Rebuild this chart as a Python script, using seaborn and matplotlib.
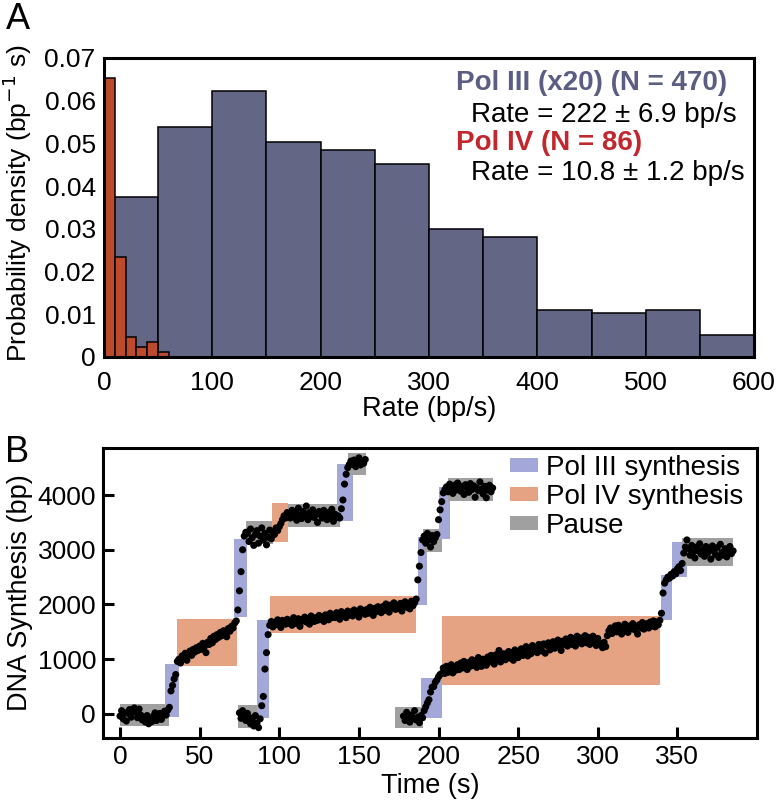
import numpy as np
import pandas as pd
import matplotlib
matplotlib.use("Agg")
import matplotlib.pyplot as plt
from matplotlib.patches import Rectangle, Patch
import seaborn as sns

# ---- panel A: rate histograms (probability density) ----
pol3_edges = [0, 50, 100, 150, 200, 250, 300, 350, 400, 450, 500, 550, 600]
pol3_density = [0.0375, 0.0539, 0.0623, 0.0503, 0.0485, 0.0452,
                0.0300, 0.0281, 0.0110, 0.0103, 0.0110, 0.0052]
pol4_edges = [0, 10, 20, 30, 40, 50, 60]
pol4_density = [0.0653, 0.0234, 0.0047, 0.0023, 0.0035, 0.0012]

pol3_title = "Pol III (x20) (N = 470)"
pol3_rate = "Rate = 222 ± 6.9 bp/s"
pol4_title = "Pol IV (N = 86)"
pol4_rate = "Rate = 10.8 ± 1.2 bp/s"

# ---- panel B: DNA synthesis traces, one point per second ----
trace1_start = 0
trace1_bp = [
    -40, 60, -90, 20, -130, 10, 80, -60, 40, 110,
    30, -70, 90, -20, -110, -60, -150, -30, -180, -90,
    -140, -40, 20, -120, -60, 10, -100, -30, 50, -20,
    70,
    120, 420, 520, 640, 720, 960,
    1000, 930, 1060, 1020, 1110, 980, 1090, 1150, 1070, 1180,
    1130, 1210, 1160, 1240, 1180, 1290, 1230, 1120, 1310, 1270,
    1380, 1300, 1420, 1360, 1450, 1400, 1490, 1430, 1520, 1470,
    1410, 1560, 1510, 1600, 1570, 1660, 1700,
    1900, 2250, 2600, 3000, 3250, 3320,
    3300, 3150, 3380, 3220, 3080, 3280, 3350, 3120, 3250, 3400,
    3180, 3300, 3090, 3230, 3360, 3200, 3320, 3280, 3400, 3350,
    3420, 3480, 3550, 3620, 3580, 3680,
    3650, 3580, 3720, 3600, 3690, 3540, 3760, 3630, 3570, 3700,
    3620, 3800, 3550, 3680, 3610, 3730, 3590, 3660, 3500, 3700,
    3640, 3580, 3720, 3610, 3550, 3680, 3600, 3740, 3520, 3650,
    3590, 3620,
    3580, 3750, 3910, 4200, 4380, 4500, 4560, 4620,
    4560, 4640, 4520, 4600, 4680, 4550, 4620, 4580, 4650,
]

trace2_start = 75
trace2_bp = [
    20, -80, 60, -40, -120, 10, -60, -180, -100, -220,
    -30, -170, -250, -90,
    150, 320, 820, 1120, 1450, 1620,
    1690, 1590, 1670, 1630, 1720, 1650, 1580, 1710, 1680, 1640,
    1730, 1660, 1700, 1620, 1760, 1690, 1650, 1740, 1600, 1720,
    1700, 1770, 1680, 1740, 1640, 1790, 1720, 1690, 1760, 1710,
    1800, 1730, 1770, 1690, 1810, 1750, 1720, 1840, 1760, 1790,
    1760, 1850, 1800, 1730, 1870, 1790, 1830, 1760, 1880, 1810,
    1860, 1790, 1900, 1830, 1870, 1770, 1920, 1850, 1890, 1820,
    1910, 1840, 1950, 1880, 1800, 1930, 1870, 1960, 1900, 1850,
    1960, 1890, 2010, 1920, 1860, 1990, 1940, 2030, 1910, 1970,
    1930, 2020, 1880, 1990, 2050, 1950, 2000, 1920, 2060, 1980,
    2030, 2100,
    2450, 2700, 2950, 3180,
    3250, 3120, 3300, 3180, 3050, 3260, 3150, 3220, 3280,
    3550, 3730, 3880, 4040, 4100,
    4150, 4060, 4200, 4110, 4030, 4180, 4090, 4220, 4140, 4070,
    4160, 4010, 4190, 4120, 4050, 4210, 4100, 4170, 3960, 4130,
    4080, 4240, 4110, 4020, 4160, 3950, 4090, 4180, 4060, 4130,
]

trace3_start = 178
trace3_bp = [
    -40, -120, 30, -90, -150, -20, -80, 60, -110, -60,
    -160, -30, -70,
    60, 130, 200, 260, 400, 490, 500, 580, 620, 680, 720,
    740, 840, 740, 870, 760, 840, 900, 750, 860, 800,
    900, 810, 930, 840, 960, 850, 810, 940, 870, 990,
    890, 970, 850, 1030, 920, 870, 1000, 960, 890, 1040,
    950, 1070, 970, 910, 1080, 990, 1160, 950, 1050, 1100,
    990, 1090, 1140, 1020, 1120, 980, 1170, 1070, 1030, 1150,
    1190, 1070, 1160, 1230, 1060, 1180, 1100, 1250, 1140, 1210,
    1120, 1270, 1200, 1150, 1280, 1110, 1250, 1300, 1170, 1260,
    1320, 1200, 1290, 1350, 1230, 1160, 1330, 1270, 1370, 1240,
    1300, 1400, 1270, 1370, 1240, 1420, 1320, 1390, 1280, 1380,
    1430, 1300, 1400, 1270, 1360, 1420, 1320, 1250, 1380, 1290,
    1260, 1210, 1310, 1230, 1430, 1520, 1570, 1470, 1550, 1610,
    1500, 1620, 1540, 1460, 1590, 1640, 1530, 1490, 1610, 1560,
    1650, 1540, 1600, 1460, 1630, 1570, 1670, 1550, 1620, 1650,
    1570, 1680, 1610, 1700, 1590, 1680, 1630, 1710,
    1840, 2210, 2390, 2450, 2500, 2480, 2550,
    2520, 2600, 2560, 2650, 2690, 2620, 2750, 2940, 3050, 3180,
    3020, 2900, 3080, 2960, 2850, 3050, 2980, 3110, 2920, 3000,
    2880, 3060, 2940, 3000, 2830, 3070, 2970, 2910, 3040, 2860,
    3100, 2950, 2900, 3020, 2870, 2990, 3060, 2930, 2980,
]

# shaded phases: kind, t start, t end, bp low, bp high
phase_kind = ["pause", "pol3", "pol4", "pol3", "pause", "pause", "pol4", "pol3", "pause",
              "pause", "pol3", "pol4", "pol3", "pause", "pol3", "pause",
              "pause", "pol3", "pol4", "pol3", "pol3", "pause"]
phase_t0 = [0, 28, 36, 71.5, 79, 100, 95.5, 136, 143,
            74, 86, 94, 187, 190, 200.5, 206,
            172.5, 189, 202, 339.5, 346.5, 353]
phase_t1 = [31, 37, 73.5, 80, 96, 138, 105.5, 146, 154.5,
            86, 93.5, 186, 193, 202, 207.5, 234,
            190, 202, 339, 346.5, 356, 385]
phase_lo = [-220, -55, 880, 1770, 3100, 3420, 3140, 3530, 4370,
            -255, -75, 1480, 1990, 2960, 3200, 3890,
            -255, -75, 530, 1720, 2500, 2700]
phase_hi = [180, 915, 1740, 3200, 3530, 3840, 3860, 4570, 4770,
            165, 1720, 2160, 3240, 3380, 4150, 4310,
            130, 660, 1790, 2540, 3150, 3220]

legend_labels = {"pol3": "Pol III synthesis", "pol4": "Pol IV synthesis", "pause": "Pause"}
phase_colors = {"pol3": "#a3a8d8", "pol4": "#e6a383", "pause": "#a0a0a0"}

# ---- style ----
sns.set_style("ticks")
plt.rcParams["font.family"] = ["Liberation Sans", "DejaVu Sans"]
plt.rcParams["font.size"] = 19
plt.rcParams["axes.linewidth"] = 2.2
for key in ["text.color", "axes.labelcolor", "xtick.color", "ytick.color", "axes.edgecolor"]:
    plt.rcParams[key] = "black"

fig = plt.figure(figsize=(7.83, 8.02), dpi=100)
axA = fig.add_axes([0.1328, 0.5549, 0.8302, 0.3728])
axB = fig.add_axes([0.1315, 0.0798, 0.8353, 0.3616])

# panel A
pol3_centers = [(a + b) / 2 for a, b in zip(pol3_edges[:-1], pol3_edges[1:])]
pol4_centers = [(a + b) / 2 for a, b in zip(pol4_edges[:-1], pol4_edges[1:])]
sns.histplot(x=pol3_centers, weights=pol3_density, bins=pol3_edges, ax=axA,
             color="#636785", alpha=1, edgecolor="black", linewidth=1.1)
sns.histplot(x=pol4_centers, weights=pol4_density, bins=pol4_edges, ax=axA,
             color="#bd4a2b", alpha=1, edgecolor="black", linewidth=1.1)
axA.set_xlim(0, 600)
axA.set_ylim(0, 0.07)
axA.set_xticks([0, 100, 200, 300, 400, 500, 600])
axA.set_yticks([0, 0.01, 0.02, 0.03, 0.04, 0.05, 0.06, 0.07])
axA.set_yticklabels(["0", "0.01", "0.02", "0.03", "0.04", "0.05", "0.06", "0.07"])
axA.tick_params(axis="x", direction="in", length=0, labelsize=19, pad=10)
axA.tick_params(axis="y", direction="in", length=0, labelsize=19, pad=6)
axA.set_xlabel("Rate (bp/s)", fontsize=19.5, labelpad=1)
axA.set_ylabel("Probability density (bp$^{-1}$ s)", fontsize=19)
axA.yaxis.set_label_coords(-0.108, 0.515)
axA.text(325, 0.0641, pol3_title, color="#5b5e82", fontweight="bold",
         fontsize=20, va="center", ha="left")
axA.text(339, 0.0567, pol3_rate, color="black", fontsize=20, va="center", ha="left")
axA.text(325, 0.0501, pol4_title, color="#c1272d", fontweight="bold",
         fontsize=20, va="center", ha="left")
axA.text(339, 0.0431, pol4_rate, color="black", fontsize=20, va="center", ha="left")
for s in axA.spines.values():
    s.set_linewidth(2.2)

# panel B
for kind, t0, t1, lo, hi in zip(phase_kind, phase_t0, phase_t1, phase_lo, phase_hi):
    axB.add_patch(Rectangle((t0, lo), t1 - t0, hi - lo, facecolor=phase_colors[kind],
                            edgecolor="none", zorder=1))

traces = []
for start, bp in [(trace1_start, trace1_bp), (trace2_start, trace2_bp), (trace3_start, trace3_bp)]:
    traces.append(pd.DataFrame({"time": start + np.arange(len(bp)), "bp": bp}))
df = pd.concat(traces, ignore_index=True)
sns.scatterplot(data=df, x="time", y="bp", color="black", s=26, edgecolor="none",
                ax=axB, zorder=3)

axB.set_xlim(-10.7, 400)
axB.set_ylim(-440, 4860)
axB.set_xticks([0, 50, 100, 150, 200, 250, 300, 350])
axB.set_yticks([0, 1000, 2000, 3000, 4000])
axB.tick_params(direction="in", length=8, width=2.2, labelsize=19, pad=5)
axB.set_xlabel("Time (s)", fontsize=19.5, labelpad=3)
axB.set_ylabel("DNA Synthesis (bp)", fontsize=19.5)
axB.yaxis.set_label_coords(-0.107, 0.5)

handles = [Patch(facecolor=phase_colors[k], edgecolor="none") for k in ["pol3", "pol4", "pause"]]
axB.legend(handles, [legend_labels[k] for k in ["pol3", "pol4", "pause"]],
           loc="upper left", bbox_to_anchor=(0.622, 0.975), frameon=False,
           fontsize=20, handlelength=1.0, handleheight=0.4, handletextpad=0.3,
           labelspacing=0.1, borderpad=0, borderaxespad=0)

fig.text(0.007, 0.997, "A", fontsize=26, va="top", ha="left")
fig.text(0.007, 0.457, "B", fontsize=26, va="top", ha="left")

fig.savefig("out.png", dpi=100)
